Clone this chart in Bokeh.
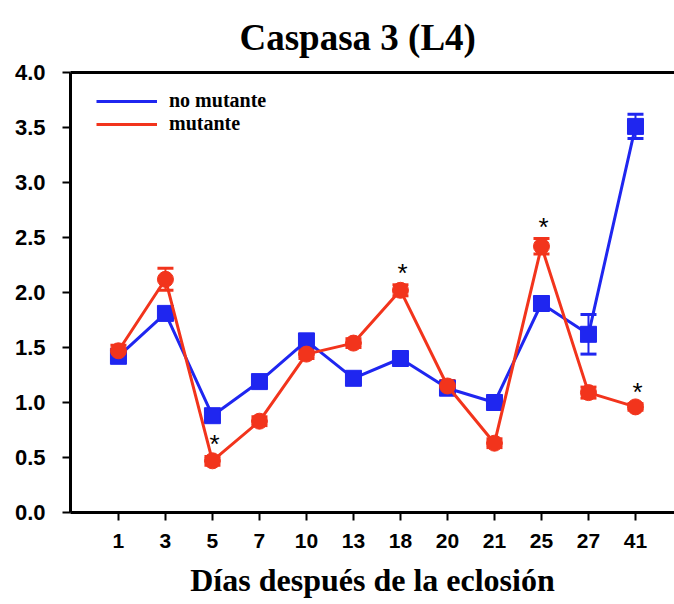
from bokeh.plotting import figure
from bokeh.models import (ColumnDataSource, Range1d, FixedTicker, LinearAxis, Whisker,
                          TeeHead, Legend, LegendItem, NumeralTickFormatter)
from bokeh.core.properties import value
from bokeh.embed import file_html
from bokeh.resources import INLINE

days = ["1", "3", "5", "7", "10", "13", "18", "20", "21", "25", "27", "41"]
no_mutante = [1.42, 1.81, 0.88, 1.19, 1.56, 1.22, 1.40, 1.13, 1.00, 1.90, 1.62, 3.51]
no_mutante_err = [0.03, 0.05, 0.04, 0.04, 0.06, 0.04, 0.04, 0.05, 0.04, 0.05, 0.18, 0.11]
mutante = [1.47, 2.12, 0.47, 0.83, 1.44, 1.54, 2.02, 1.15, 0.63, 2.42, 1.09, 0.96]
mutante_err = [0.05, 0.10, 0.04, 0.04, 0.04, 0.04, 0.05, 0.05, 0.04, 0.07, 0.05, 0.03]
significant = ["5", "18", "25", "41"]

BLUE = "#1f26f0"
RED = "#f2341c"

idx = list(range(len(days)))
src_b = ColumnDataSource(dict(x=idx, y=no_mutante,
                              lo=[v - e for v, e in zip(no_mutante, no_mutante_err)],
                              hi=[v + e for v, e in zip(no_mutante, no_mutante_err)]))
src_r = ColumnDataSource(dict(x=idx, y=mutante,
                              lo=[v - e for v, e in zip(mutante, mutante_err)],
                              hi=[v + e for v, e in zip(mutante, mutante_err)]))

p = figure(width=674, height=604, output_backend="svg", toolbar_location=None,
           x_range=Range1d(-1.02, 11.83), y_range=Range1d(0, 4.0),
           min_border_left=70, min_border_right=0, min_border_top=71, min_border_bottom=92,
           title="Caspasa 3 (L4)")
p.outline_line_color = None
p.grid.visible = False
p.background_fill_color = "white"

p.title.align = "left"
p.title.offset = 169
p.title.text_font = "Liberation Serif"
p.title.text_font_size = "37px"
p.title.text_font_style = "bold"
p.title.text_color = "black"
p.title.standoff = 29

xa = p.below[0]
xa.ticker = FixedTicker(ticks=idx)
xa.major_label_overrides = {i: d for i, d in enumerate(days)}
xa.axis_line_width = 3
xa.axis_line_color = "black"
xa.major_tick_line_width = 2
xa.major_tick_line_color = "black"
xa.major_tick_out = 8
xa.major_tick_in = 0
xa.minor_tick_line_color = None
xa.major_label_text_font = "Liberation Sans"
xa.major_label_text_font_style = "bold"
xa.major_label_text_font_size = "21px"
xa.major_label_text_color = "black"
xa.major_label_standoff = 13
xa.axis_label = "Días después de la eclosión"
xa.axis_label_text_font = "Liberation Serif"
xa.axis_label_text_font_style = "bold"
xa.axis_label_text_font_size = "32px"
xa.axis_label_text_color = "black"
xa.axis_label_standoff = 11

ya = p.left[0]
ya.ticker = FixedTicker(ticks=[0, 0.5, 1.0, 1.5, 2.0, 2.5, 3.0, 3.5, 4.0])
ya.formatter = NumeralTickFormatter(format="0.0")
ya.axis_line_width = 3
ya.axis_line_color = "black"
ya.major_tick_line_width = 2
ya.major_tick_line_color = "black"
ya.major_tick_out = 8
ya.major_tick_in = 0
ya.minor_tick_line_color = None
ya.major_label_text_font = "Liberation Sans"
ya.major_label_text_font_style = "bold"
ya.major_label_text_font_size = "22px"
ya.major_label_text_color = "black"
ya.major_label_standoff = 17

# top line
top_axis = LinearAxis(ticker=FixedTicker(ticks=[]), major_tick_line_color=None,
                      minor_tick_line_color=None, major_label_text_font_size="0px",
                      axis_line_width=3, axis_line_color="black")
p.add_layout(top_axis, "above")

# error bars
for src, col in ((src_b, BLUE), (src_r, RED)):
    w = Whisker(source=src, base="x", upper="hi", lower="lo",
                line_color=col, line_width=2,
                upper_head=TeeHead(size=16, line_color=col, line_width=3),
                lower_head=TeeHead(size=16, line_color=col, line_width=3))
    p.add_layout(w)

lb = p.line("x", "y", source=src_b, line_color=BLUE, line_width=3)
p.scatter("x", "y", source=src_b, marker="square", size=16, fill_color=BLUE, line_color=BLUE)
lr = p.line("x", "y", source=src_r, line_color=RED, line_width=3)
p.scatter("x", "y", source=src_r, marker="circle", size=16, fill_color=RED, line_color=RED)

# significance asterisks
sx, sy = [], []
for d in significant:
    i = days.index(d)
    sx.append(i)
    sy.append(mutante[i] + mutante_err[i])
p.text(x=sx, y=sy, text=["*"] * len(sx), text_font=value("Liberation Sans"),
       text_font_size="26px", text_color="black", text_align="center",
       text_baseline="middle", y_offset=-12, x_offset=2)

legend = Legend(items=[LegendItem(label="no mutante", renderers=[lb]),
                       LegendItem(label="mutante", renderers=[lr])],
                location=(26, 377), border_line_color=None, background_fill_alpha=0,
                glyph_width=61, glyph_height=14, label_standoff=12, spacing=-8,
                margin=0, padding=0,
                label_text_font="Liberation Serif", label_text_font_style="bold",
                label_text_font_size="20px", label_text_color="black")
p.add_layout(legend)

open("out.html", "w").write(file_html(p, INLINE))
